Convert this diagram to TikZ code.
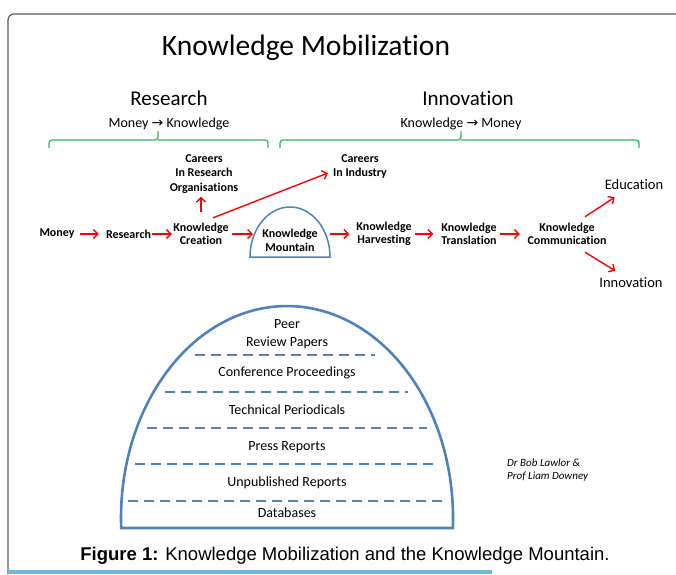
\documentclass[tikz,border=0pt]{standalone}
\usepackage{fontspec}
\setmainfont{Carlito}[RawFeature=-liga]
\newfontfamily\capfont{Liberation Sans}
\newfontfamily\symfont{DejaVu Sans}
\usetikzlibrary{arrows.meta,calc}
\definecolor{kred}{RGB}{255,0,0}
\definecolor{kblue}{RGB}{79,129,189}
\definecolor{kgreen}{RGB}{46,184,92}
\definecolor{kframe}{RGB}{90,90,90}
\definecolor{kbar}{RGB}{110,183,214}
\begin{document}
\begin{tikzpicture}[x=1pt,y=-1pt,
  titlelbl/.style={font=\fontsize{29.5}{32}\selectfont, inner sep=0pt},
  headlbl/.style={font=\fontsize{21}{24}\selectfont, inner sep=0pt},
  sublbl/.style={font=\fontsize{14}{16}\selectfont, inner sep=0pt},
  flowlbl/.style={font=\bfseries\fontsize{12}{13.5}\selectfont, align=center, inner sep=0pt},
  outlbl/.style={font=\fontsize{14.5}{16}\selectfont, inner sep=0pt},
  mtnlbl/.style={font=\fontsize{14}{18}\selectfont, align=center, inner sep=0pt},
  flow/.style={draw=kred, line width=1.4pt, -{Straight Barb[length=4.5pt,width=9pt]}},
  brace/.style={draw=kgreen, line width=1.3pt, rounded corners=3pt},
  mtn/.style={draw=kblue, line width=2.6pt},
  smtn/.style={draw=kblue, line width=1.5pt},
  layer/.style={draw=kblue, line width=1.5pt, dash pattern=on 10pt off 6pt},
]
\useasboundingbox (0,0) rectangle (676,574);
% frame
\draw[kframe, line width=1.2pt, rounded corners=6pt] (8,574) -- (8,14) -- (676,14);
\fill[kbar] (8,569.5) rectangle (492,574);

% titles
\node[titlelbl] (title) at (306,48) {Knowledge Mobilization};
\node[headlbl] (research) at (169,98) {Research};
\node[headlbl] (innovation) at (468,98) {Innovation};
\node[sublbl] (mk) at (169,124) {Money {\symfont →} Knowledge};
\node[sublbl] (km) at (461,124) {Knowledge {\symfont →} Money};

% braces
\draw[brace] (49,148) |- (158,140) -- (158,131);
\draw[brace] (158,140) -| (268,148);
\draw[brace] (280,148) |- (461,140) -- (461,131);
\draw[brace] (461,140) -| (639,148);

% flow nodes
\node[flowlbl, minimum width=35pt] (money) at (57,234) {Money};
\node[flowlbl, minimum width=45pt] (researchN) at (128.5,234) {Research};
\node[flowlbl, minimum width=57pt] (creation) at (201,234) {Knowledge\\Creation};
\node[flowlbl, font=\bfseries\fontsize{12}{14.5}\selectfont] (careersR) at (204,174) {Careers\\In Research\\Organisations};
\node[flowlbl, font=\bfseries\fontsize{12}{14}\selectfont] (careersI) at (360,167) {Careers\\In Industry};
\node[flowlbl] (mtnS) at (290,240.5) {Knowledge\\Mountain};
\node[flowlbl, minimum width=57pt] (harvest) at (384,234) {Knowledge\\Harvesting};
\node[flowlbl, minimum width=57pt] (transl) at (469,234) {Knowledge\\Translation};
\node[flowlbl, minimum width=82pt] (comm) at (567,234) {Knowledge\\Communication};
\node[outlbl] (edu) at (634,185) {Education};
\node[outlbl] (inno) at (631,283) {Innovation};

% small mountain
\draw[smtn] (250,257) arc[start angle=180, end angle=360, x radius=40, y radius=50] -- cycle;
\coordinate (mtnW) at (253,234);
\coordinate (mtnE) at (327,234);

% flow arrows
\draw[flow, shorten <=5.5pt, shorten >=7pt] (money.east) -- (researchN.west);
\draw[flow, shorten <=1pt, shorten >=0.5pt] (researchN.east) -- (creation.west);
\draw[flow, shorten <=2.5pt] (creation.east) -- (mtnW);
\draw[flow, shorten <=3pt, shorten >=6pt] (mtnE) -- (harvest.west);
\draw[flow, shorten <=2pt, shorten >=7pt] (harvest.east) -- (transl.west);
\draw[flow, shorten <=2pt, shorten >=6pt] (transl.east) -- (comm.west);
\draw[flow, shorten <=11pt, shorten >=3pt] (creation.north) -- (creation.north |- careersR.south);
\draw[flow] ($(creation.north)+(12,-5)$) -- ($(careersI.west)+(-5,6)$);
\draw[flow] ($(comm.north)+(18,-6)$) -- ($(edu.south west)+(10,7)$);
\draw[flow] ($(comm.south)+(18,7)$) -- ($(inno.north west)+(16,-7)$);

% big mountain
\draw[mtn] (121.2,528) arc[start angle=177.3, end angle=362.7, x radius=166, y radius=212] -- cycle;
\draw[layer] (195,355) -- (375,355);
\draw[layer] (165,392) -- (408,392);
\draw[layer] (147,428) -- (427,428);
\draw[layer] (135,464) -- (438,464);
\draw[layer] (128,501) -- (442,501);
\node[mtnlbl] (peer) at (287,334) {Peer\\Review Papers};
\node[mtnlbl] (conf) at (287,373) {Conference Proceedings};
\node[mtnlbl] (tech) at (287,410) {Technical Periodicals};
\node[mtnlbl] (press) at (287,447) {Press Reports};
\node[mtnlbl] (unpub) at (287,483) {Unpublished Reports};
\node[mtnlbl] (db) at (287,513) {Databases};

% credit
\node[font=\itshape\fontsize{11}{13}\selectfont, align=left, anchor=west, inner sep=0pt] (credit) at (507,470.5) {Dr Bob Lawlor \&\\Prof Liam Downey};

% caption
\node[font=\capfont\fontsize{18.5}{20}\selectfont, inner sep=0pt] (caption) at (345,556) {\textbf{Figure 1:} Knowledge Mobilization and the Knowledge Mountain.};
\end{tikzpicture}
\end{document}
